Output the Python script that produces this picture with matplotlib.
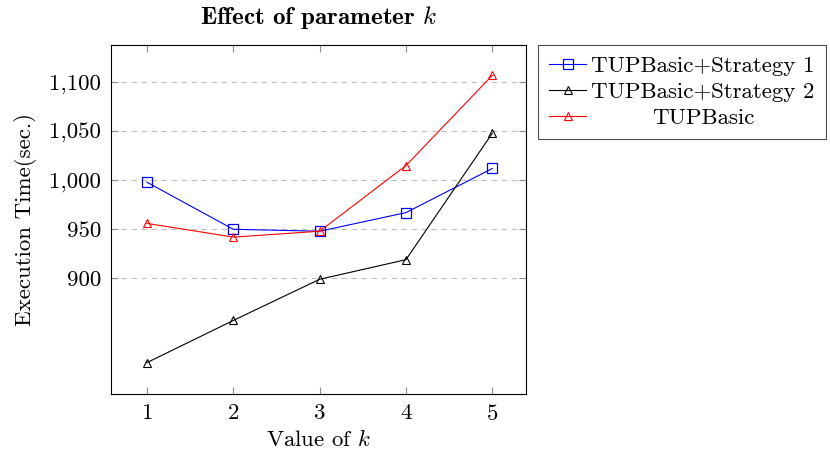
import numpy as np
import matplotlib
matplotlib.use('Agg')
import matplotlib.pyplot as plt
from matplotlib.ticker import FuncFormatter

plt.rcParams['font.family'] = ['cmr10', 'DejaVu Serif']
plt.rcParams['mathtext.fontset'] = 'cm'
plt.rcParams['axes.formatter.use_mathtext'] = True

k_values = [1, 2, 3, 4, 5]
strategy1 = [998, 950, 948, 967, 1012]
strategy2 = [814, 857, 899, 919, 1048]
basic = [956, 942, 948, 1015, 1107]
yticks = [900, 950, 1000, 1050, 1100]

fig = plt.figure(figsize=(8.3, 4.57), dpi=100)
ax = fig.add_axes([0.1337, 0.1379, 0.5, 0.7637])

ax.plot(k_values, strategy1, color='blue', lw=0.8, marker='s', ms=7,
        mfc='none', mec='blue', mew=0.9, label='TUPBasic+Strategy 1')
ax.plot(k_values, strategy2, color='black', lw=0.8, marker='^', ms=5.5,
        mfc='none', mec='black', mew=0.8, label='TUPBasic+Strategy 2')
ax.plot(k_values, basic, color='red', lw=0.8, marker='^', ms=5.5,
        mfc='none', mec='red', mew=0.8, label='TUPBasic')

ax.set_xlim(0.583, 5.39)
ax.set_ylim(782, 1138)
ax.set_xticks(k_values)
ax.set_yticks(yticks)
ax.yaxis.set_major_formatter(FuncFormatter(lambda v, p: f'{v:,.0f}'))
ax.tick_params(direction='in', top=True, right=True, length=5,
               color='0.55', labelsize=16.5, pad=7)
ax.grid(axis='y', ls=(0, (5, 4)), color='0.75', lw=0.8)
ax.set_axisbelow(True)
for s in ax.spines.values():
    s.set_linewidth(0.8)

ax.set_xlabel('Value of $k$', fontsize=16.5, labelpad=4)
ax.set_ylabel('Execution Time(sec.)', fontsize=16.5, labelpad=9)
ax.set_title('Effect of parameter $k$', fontsize=18, family='cmb10', pad=15)

leg = ax.legend(loc='upper left', bbox_to_anchor=(1.029, 1.0), fontsize=16.5,
                fancybox=False, edgecolor='0.3', framealpha=1,
                handlelength=1.6, handletextpad=0.22, borderpad=0.5,
                labelspacing=0.25, borderaxespad=0)
leg.get_frame().set_linewidth(0.8)

# center legend labels like pgfplots does
fig.canvas.draw()
r = fig.canvas.get_renderer()
texts = leg.get_texts()
widths = [t.get_window_extent(r).width for t in texts]
wmax = max(widths)
for t, w in zip(texts, widths):
    t.set_x((wmax - w) / 2)

plt.savefig('out.png', dpi=100)
